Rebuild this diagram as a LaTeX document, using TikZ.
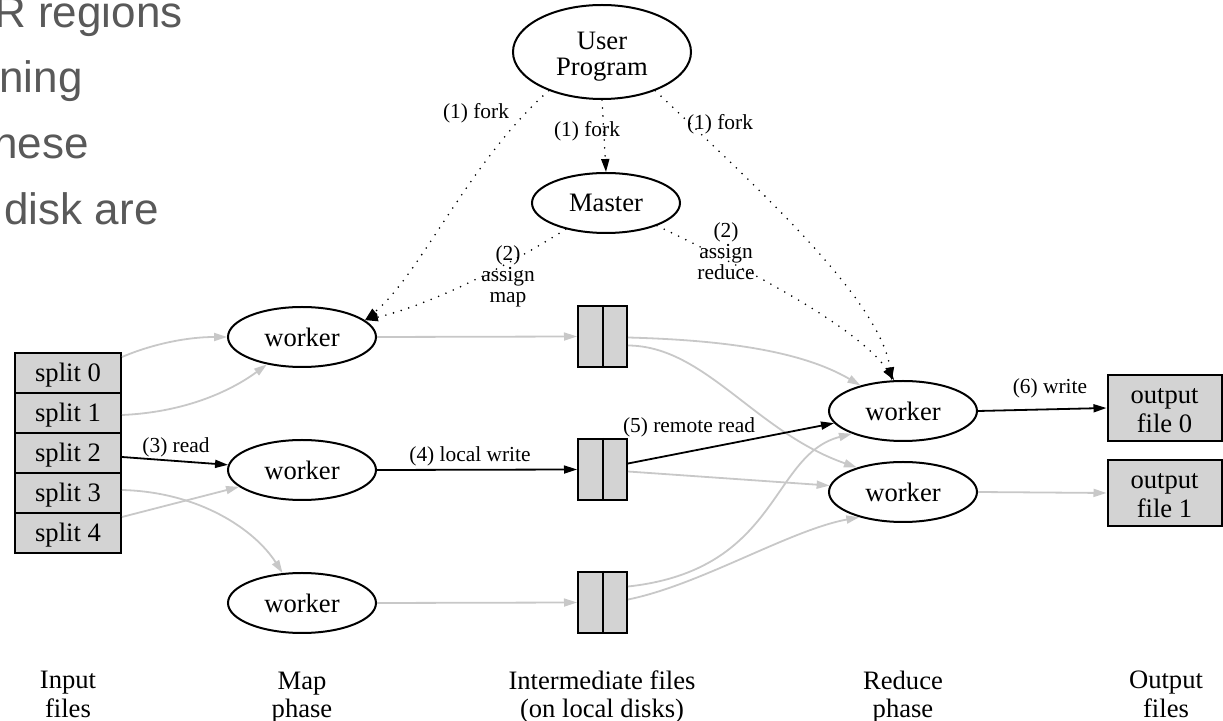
\documentclass[tikz,border=0pt]{standalone}
\usepackage{fontspec}
\setmainfont{Liberation Serif}
\newfontfamily\slidefont{Liberation Sans}
\usetikzlibrary{shapes.geometric,arrows.meta,calc}

\definecolor{edgegray}{RGB}{200,200,200}
\definecolor{boxfill}{RGB}{211,211,211}
\definecolor{slidegray}{RGB}{89,89,89}

\newcommand{\mainsize}{\fontsize{13.3}{13}\selectfont}
\newcommand{\labelsize}{\fontsize{10.7}{10.5}\selectfont}

\begin{document}
\begin{tikzpicture}[
  x=0.5pt, y=-0.5pt,
  tip/.style={-{Triangle[length=6.5pt,width=4pt]}},
  worker/.style={ellipse, draw, line width=1pt, minimum width=74pt,
    minimum height=30pt, inner sep=0pt, font=\mainsize},
  filebox/.style={rectangle, draw, fill=boxfill, line width=1pt,
    inner sep=0pt, font=\mainsize, align=center},
  splitbox/.style={filebox, minimum width=53pt, minimum height=20pt,
    text height=9pt, text depth=0pt},
  outbox/.style={filebox, minimum width=57pt, minimum height=33pt},
  diskbox/.style={rectangle, draw, fill=boxfill, line width=1pt,
    minimum width=24.5pt, minimum height=30.5pt, inner sep=0pt},
  elabel/.style={inner sep=0pt, font=\labelsize, align=center},
  phase/.style={inner sep=0pt, font=\mainsize, align=center},
  slidetext/.style={inner sep=0pt, anchor=base east, text=slidegray,
    font=\slidefont\fontsize{22}{26}\selectfont},
  grayedge/.style={tip, draw=edgegray, line width=0.9pt},
  blackedge/.style={tip, draw=black, line width=0.9pt},
  dotedge/.style={tip, draw=black, line width=0.9pt, line cap=round,
    dash pattern=on 0pt off 4pt},
]
\useasboundingbox (0,0) rectangle (1223,721);

% slide text running in from the left
\node[slidetext] (t1) at (183,28) {R regions};
\node[slidetext] (t2) at (83,93) {ning};
\node[slidetext] (t3) at (89,159) {hese};
\node[slidetext] (t4) at (159,225) {disk are};

% control nodes
\node[ellipse, draw, line width=1pt, minimum width=89pt, minimum height=47pt,
  inner sep=0pt] (up) at (602,52) {};
\node[phase] (upt) at (602,57.5) {\strut User\\Program\strut};
\node[worker] (master) at (606,203) {Master};

% input splits
\node[splitbox] (s0) at (68,373) {split 0};
\node[splitbox] (s1) at (68,413) {split 1};
\node[splitbox] (s2) at (68,453) {split 2};
\node[splitbox] (s3) at (68,493) {split 3};
\node[splitbox] (s4) at (68,533) {split 4};

% map workers
\node[worker] (m1) at (302,337) {worker};
\node[worker] (m2) at (302,470) {worker};
\node[worker] (m3) at (302,603) {worker};

% intermediate files on local disks
\node[diskbox] (i1) at (602.5,336.5) {};
\node[diskbox] (i2) at (602.5,469.5) {};
\node[diskbox] (i3) at (602.5,602.5) {};
\foreach \d in {i1,i2,i3}
  \draw[line width=1pt] (\d.north) -- (\d.south);

% reduce workers
\node[worker] (r1) at (903,411) {worker};
\node[worker] (r2) at (903,492) {worker};

% output files
\node[outbox] (o0) at (1164.5,408) {};
\node[phase] (o0t) at (1164.5,412.8) {\strut output\\file 0\strut};
\node[outbox] (o1) at (1164.5,493) {};
\node[phase] (o1t) at (1164.5,497.8) {\strut output\\file 1\strut};

% fork and assignment (dotted)
\draw[dotedge] (up.216) .. controls (470,160) and (420,275) .. (m1.15);
\draw[dotedge] (master.213) .. controls (510,265) and (430,305) .. (m1.15);
\draw[dotedge] (up.south) -- (master.north);
\draw[dotedge] (up.324) .. controls (760,190) and (880,300) .. (r1.110);
\draw[dotedge] (master.336) .. controls (760,275) and (860,330) .. (r1.106);

% reading the splits
\draw[grayedge] ($(s0.east)+(0,-16)$) .. controls (150,345) and (185,337) .. (m1.west);
\draw[grayedge] ($(s1.east)+(0,2)$) .. controls (190,412) and (235,388) .. (m1.218);
\draw[blackedge] ($(s2.east)+(0,4)$) -- (m2.176);
\draw[grayedge] ($(s3.east)+(0,-3)$) .. controls (200,492) and (255,530) .. (m3.123);
\draw[grayedge] ($(s4.east)+(0,-16)$) -- (m2.195);

% local writes
\draw[grayedge] (m1.east) -- (i1.west);
\draw[blackedge] (m2.east) -- (i2.west);
\draw[grayedge] (m3.east) -- (i3.west);

% remote reads
\draw[grayedge] ($(i1.east)+(0,1)$) .. controls (720,340) and (800,350) .. (r1.149);
\draw[grayedge] ($(i1.east)+(0,9)$) .. controls (705,346) and (755,432) .. (r2.152);
\draw[blackedge] ($(i2.east)+(0,-6)$) -- (r1.190);
\draw[grayedge] ($(i2.east)+(0,2)$) -- (r2.175);
\draw[grayedge] ($(i3.east)+(0,-16)$) .. controls (780,570) and (770,455) .. (r1.204);
\draw[grayedge] ($(i3.east)+(0,-3)$) .. controls (700,585) and (790,530) .. (r2.210);

% final writes
\draw[blackedge] (r1.east) -- (o0.west);
\draw[grayedge] (r2.east) -- (o1.west);

% edge labels
\node[elabel] (lf1) at (476,113) {(1) fork};
\node[elabel] (lf2) at (587,131) {(1) fork};
\node[elabel] (lf3) at (720,124) {(1) fork};
\node[elabel] (la1) at (508,276) {(2)\\assign\\map};
\node[elabel] (la2) at (726,251) {(2)\\assign\\reduce};
\node[elabel] (lrd) at (176,447) {(3) read};
\node[elabel] (llw) at (470,456) {(4) local write};
\node[elabel] (lrr) at (689,427) {(5) remote read};
\node[elabel] (lwr) at (1050,388) {(6) write};

% phase captions
\node[phase] (p1) at (68,698) {\strut Input\\files\strut};
\node[phase] (p2) at (302,698) {\strut Map\\phase\strut};
\node[phase] (p3) at (602,698) {\strut Intermediate files\\(on local disks)\strut};
\node[phase] (p4) at (903,698) {\strut Reduce\\phase\strut};
\node[phase] (p5) at (1166,698) {\strut Output\\files\strut};
\end{tikzpicture}
\end{document}
